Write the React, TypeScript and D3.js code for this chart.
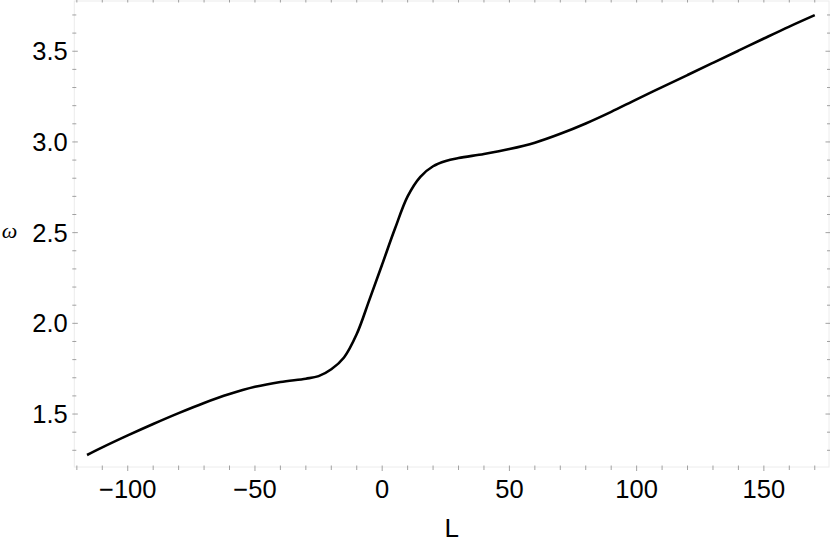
import { useEffect, useRef } from 'react';
import * as d3 from 'd3';

// L values and the matching omega values
const lValues = [
  -116, -110, -100, -90, -80, -70, -60, -50, -40, -30, -25, -20, -15, -10, -5,
  0, 5, 10, 15, 20, 25, 30, 40, 50, 60, 70, 80, 90, 100, 110, 120, 130, 140,
  150, 160, 170,
];
const omegaValues = [
  1.274, 1.316, 1.382, 1.445, 1.505, 1.561, 1.610, 1.650, 1.677, 1.695, 1.709,
  1.747, 1.812, 1.941, 2.131, 2.325, 2.521, 2.700, 2.808, 2.866, 2.895, 2.911,
  2.934, 2.961, 2.996, 3.045, 3.102, 3.166, 3.235, 3.302, 3.369, 3.436, 3.503,
  3.570, 3.636, 3.699,
];

const xMajorTicks = [-100, -50, 0, 50, 100, 150];
const yMajorTicks = [1.5, 2.0, 2.5, 3.0, 3.5];
const xLabel = 'L';
const yLabel = 'ω';

const App = () => {
  const svgRef = useRef<SVGSVGElement>(null);

  useEffect(() => {
    const svg = d3.select(svgRef.current);
    svg.selectAll('*').remove();

    const width = 830;
    const height = 544;
    const margin = { top: 1, right: 1, bottom: 77, left: 74.3 };

    const x = d3.scaleLinear()
      .domain([-121, 175.6])
      .range([margin.left, width - margin.right]);
    const y = d3.scaleLinear()
      .domain([1.208, 3.777])
      .range([height - margin.bottom, margin.top]);

    const x0 = x.range()[0], x1 = x.range()[1];
    const y0 = y.range()[0], y1 = y.range()[1];

    // frame
    svg.append('rect')
      .attr('x', x0)
      .attr('y', y1)
      .attr('width', x1 - x0)
      .attr('height', y0 - y1)
      .attr('fill', 'none')
      .attr('stroke', '#ececec')
      .attr('stroke-width', 1);

    const tickColor = '#8a8a8a';
    const xMinor = d3.range(-120, 176, 10);
    const yMinor = d3.range(13, 38).map(v => v / 10);

    // ticks on all four sides
    xMinor.forEach(v => {
      const major = v % 50 === 0;
      const len = major ? 4 : 3;
      [[y0, -1], [y1, 1]].forEach(([yy, dir]) => {
        svg.append('line')
          .attr('x1', x(v)).attr('x2', x(v))
          .attr('y1', yy + dir * 1.5).attr('y2', yy - dir * len)
          .attr('stroke', tickColor)
          .attr('stroke-width', 0.8);
      });
    });
    yMinor.forEach(v => {
      const major = Math.abs(v * 2 - Math.round(v * 2)) < 1e-6;
      const len = major ? 3.5 : 2;
      [[x0, 1], [x1, -1]].forEach(([xx, dir]) => {
        svg.append('line')
          .attr('x1', xx - dir * 2).attr('x2', xx + dir * len)
          .attr('y1', y(v)).attr('y2', y(v))
          .attr('stroke', tickColor)
          .attr('stroke-width', 0.8);
      });
    });

    const font = '"Liberation Sans", Arial, sans-serif';

    // tick labels
    svg.selectAll('.xlab')
      .data(xMajorTicks)
      .enter().append('text')
      .attr('x', d => x(d))
      .attr('y', 498.3)
      .attr('text-anchor', 'middle')
      .style('font-family', font)
      .style('font-size', '25.5px')
      .text(d => (d < 0 ? '\u2212' + Math.abs(d) : String(d)));

    svg.selectAll('.ylab')
      .data(yMajorTicks)
      .enter().append('text')
      .attr('x', 67.7)
      .attr('y', d => y(d) + 9)
      .attr('text-anchor', 'end')
      .style('font-family', font)
      .style('font-size', '25.5px')
      .text(d => d.toFixed(1));

    // axis labels
    svg.append('text')
      .attr('x', (x0 + x1) / 2)
      .attr('y', 537)
      .attr('text-anchor', 'middle')
      .style('font-family', font)
      .style('font-size', '26px')
      .text(xLabel);

    svg.append('text')
      .attr('x', 9.5)
      .attr('y', 238)
      .attr('text-anchor', 'middle')
      .style('font-family', '"Liberation Serif", serif')
      .style('font-style', 'italic')
      .style('font-size', '22px')
      .text(yLabel);

    // curve
    const pts = lValues.map((l, i) => [l, omegaValues[i]] as [number, number]);
    const line = d3.line<[number, number]>()
      .x(d => x(d[0]))
      .y(d => y(d[1]))
      .curve(d3.curveCatmullRom.alpha(0.5));

    svg.append('path')
      .datum(pts)
      .attr('d', line)
      .attr('fill', 'none')
      .attr('stroke', '#000')
      .attr('stroke-width', 2.6)
      .attr('stroke-linejoin', 'round');
  }, []);

  return (
    <svg
      ref={svgRef}
      width={830}
      height={544}
      style={{ position: 'absolute', left: 0, top: 0, background: '#fff' }}
    />
  );
};

export default App;
